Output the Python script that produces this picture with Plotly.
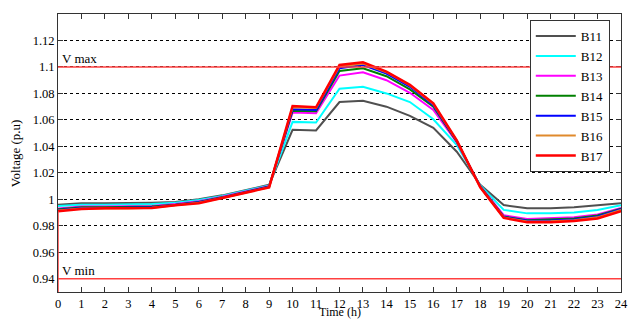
import plotly.graph_objects as go

hours = list(range(25))
names = ["B11", "B12", "B13", "B14", "B15", "B16", "B17"]
colors = ["#505050", "#00ffff", "#ff00ff", "#008000", "#0000ff", "#e08a2c", "#ff0000"]

B11 = [0.996, 0.997, 0.997, 0.997, 0.9975, 0.998, 1.0, 1.003, 1.007, 1.011,
       1.0525, 1.052, 1.0735, 1.0745, 1.070, 1.063, 1.054, 1.036, 1.011,
       0.9957, 0.9932, 0.9932, 0.994, 0.9957, 0.997]
B12 = [0.995, 0.996, 0.996, 0.996, 0.9965, 0.9975, 0.9995, 1.0025, 1.0065, 1.0105,
       1.0585, 1.058, 1.0835, 1.085, 1.080, 1.0735, 1.0605, 1.041, 1.0105,
       0.992, 0.9894, 0.9894, 0.990, 0.992, 0.9955]
B13 = [0.993, 0.9945, 0.9945, 0.9945, 0.995, 0.9965, 0.9985, 1.002, 1.006, 1.010,
       1.0655, 1.065, 1.0935, 1.096, 1.090, 1.0805, 1.0675, 1.043, 1.010,
       0.988, 0.9851, 0.9856, 0.9864, 0.9886, 0.9935]
B14 = [0.9925, 0.994, 0.994, 0.994, 0.9945, 0.996, 0.998, 1.0015, 1.0058, 1.0098,
       1.067, 1.0665, 1.097, 1.099, 1.093, 1.083, 1.070, 1.0435, 1.0098,
       0.987, 0.9842, 0.9846, 0.9855, 0.9878, 0.993]
B15 = [0.992, 0.9935, 0.9935, 0.9935, 0.994, 0.9958, 0.9978, 1.0012, 1.0055, 1.0095,
       1.068, 1.0675, 1.099, 1.1015, 1.095, 1.085, 1.071, 1.044, 1.0095,
       0.9866, 0.9838, 0.9840, 0.9848, 0.9870, 0.9925]
B16 = [0.9915, 0.993, 0.993, 0.993, 0.9937, 0.9955, 0.9975, 1.001, 1.0052, 1.0092,
       1.0695, 1.069, 1.1005, 1.1025, 1.096, 1.086, 1.072, 1.0442, 1.0092,
       0.9863, 0.9832, 0.9834, 0.9842, 0.9864, 0.992]
B17 = [0.991, 0.9927, 0.9932, 0.9932, 0.9935, 0.9955, 0.997, 1.001, 1.005, 1.009,
       1.0705, 1.0695, 1.1015, 1.1035, 1.0965, 1.0865, 1.0725, 1.0445, 1.009,
       0.986, 0.9826, 0.9826, 0.9836, 0.9856, 0.991]
series = [B11, B12, B13, B14, B15, B16, B17]

v_max = 1.1
v_min = 0.94
y_ticks = [0.94, 0.96, 0.98, 1.0, 1.02, 1.04, 1.06, 1.08, 1.1, 1.12]
y_tick_text = ["0.94", "0.96", "0.98", "1", "1.02", "1.04", "1.06", "1.08", "1.1", "1.12"]
x_ticks = list(range(25))

FONT = "Times New Roman, Liberation Serif, serif"

fig = go.Figure()
for name, col, vals in zip(names, colors, series):
    fig.add_trace(go.Scatter(x=hours, y=vals, mode="lines", name=name,
                             line=dict(color=col, width=2.5 if name == "B17" else 2)))

fig.add_shape(type="line", xref="paper", yref="y", x0=0, x1=1, y0=v_max, y1=v_max,
              line=dict(color="#ff4040", width=1.5), layer="above")
fig.add_shape(type="line", xref="paper", yref="y", x0=0, x1=1, y0=v_min, y1=v_min,
              line=dict(color="#ff4040", width=1.5), layer="above")
fig.add_shape(type="line", xref="x", yref="y", x0=0, x1=0, y0=0.93, y1=B17[0],
              line=dict(color="#ff4040", width=1.5), layer="above")

fig.add_annotation(x=0, y=v_max, xref="x", yref="y", text="V max", showarrow=False,
                   xanchor="left", yanchor="bottom", xshift=2, yshift=-1,
                   font=dict(family=FONT, size=13, color="black"))
fig.add_annotation(x=0, y=v_min, xref="x", yref="y", text="V min", showarrow=False,
                   xanchor="left", yanchor="bottom", xshift=2, yshift=-1,
                   font=dict(family=FONT, size=13, color="black"))
fig.add_annotation(x=0.5, y=-0.0,  xref="paper", yref="paper", text="Time (h)",
                   showarrow=False, xanchor="center", yanchor="bottom", yshift=-29,
                   font=dict(family=FONT, size=12, color="black"))
fig.add_annotation(x=-0.076, y=0.5, xref="paper", yref="paper", text="Voltage (p.u)",
                   showarrow=False, xanchor="center", yanchor="middle", textangle=-90,
                   font=dict(family=FONT, size=13, color="black"))

fig.update_layout(
    width=635, height=320,
    margin=dict(l=58, r=14, t=14, b=28, autoexpand=False),
    paper_bgcolor="white", plot_bgcolor="white",
    font=dict(family=FONT, size=12, color="black"),
    showlegend=True,
    legend=dict(x=0.838, y=0.978, xanchor="left", yanchor="top",
                bgcolor="white", bordercolor="#333333", borderwidth=1,
                font=dict(family=FONT, size=13, color="black"),
                itemwidth=40, tracegroupgap=0),
    xaxis=dict(range=[0, 24], tickvals=x_ticks, ticks="inside", ticklen=5,
               tickcolor="#333333", showline=True, linecolor="#333333", linewidth=1,
               mirror="allticks", showgrid=False, zeroline=False, automargin=False,
               tickfont=dict(family=FONT, size=12.5)),
    yaxis=dict(range=[0.93, 1.14], tickvals=y_ticks, ticktext=y_tick_text,
               ticks="inside", ticklen=5, tickcolor="#333333", showline=True,
               linecolor="#333333", linewidth=1, mirror="allticks", automargin=False,
               showgrid=True, gridcolor="black", gridwidth=1, griddash="3px,3px",
               zeroline=False, tickfont=dict(family=FONT, size=12.5)),
)

fig.write_html("out.html", config={"displayModeBar": False},
               post_script="document.body.style.margin='0';document.body.style.overflow='hidden';")
